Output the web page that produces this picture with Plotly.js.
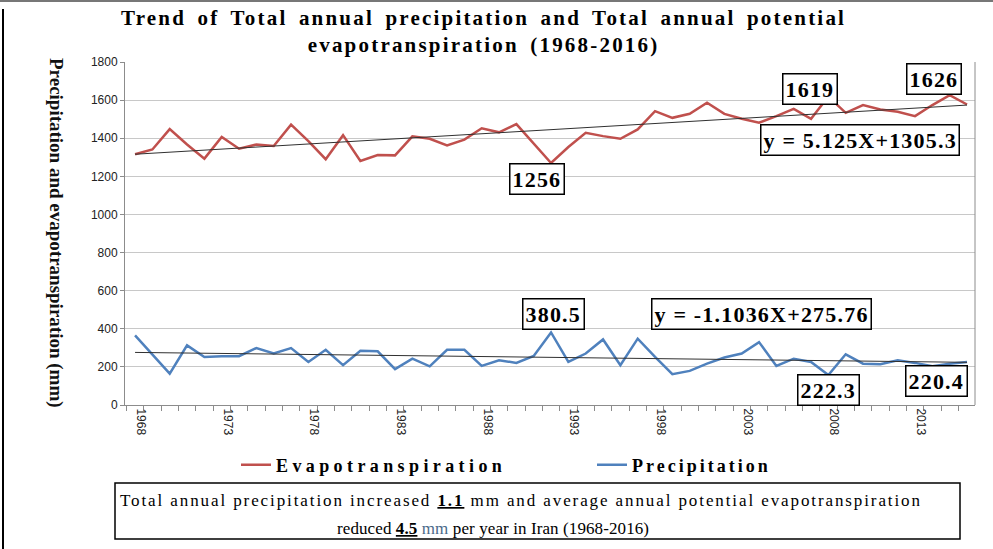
<!DOCTYPE html>
<html>
<head>
<meta charset="utf-8">
<script src="https://cdn.plot.ly/plotly-3.0.1.min.js"></script>
<style>html,body{margin:0;padding:0;background:#fff;}#chart{width:993px;height:549px;}</style>
</head>
<body>
<div id="chart"></div>
<script>
const years = [1968,1969,1970,1971,1972,1973,1974,1975,1976,1977,1978,1979,1980,1981,1982,1983,1984,1985,1986,1987,1988,1989,1990,1991,1992,1993,1994,1995,1996,1997,1998,1999,2000,2001,2002,2003,2004,2005,2006,2007,2008,2009,2010,2011,2012,2013,2014,2015,2016];
const evapotranspiration = [1316,1341,1448,1367,1293,1407,1345,1367,1359,1471,1385,1290,1416,1281,1312,1310,1410,1397,1362,1393,1452,1431,1474,1372,1270,1354,1428,1411,1397,1446,1542,1507,1528,1586,1528,1502,1481,1516,1554,1502,1619,1533,1574,1551,1539,1516,1574,1626,1577];
const precipitation = [365,266,165,313,252,256,256,299,270,299,226,290,209,285,282,188,243,203,290,290,205,235,221,257,380.5,226,270,344,209,348,252,162,179,217,249,270,330,205,243,226,157,266,217,214,235,221,203,217,226];
const trendYears = [1968, 2016];
const etTrend = [1316, 1574];
const prTrend = [276, 224];
const labelYears = [1968,1973,1978,1983,1988,1993,1998,2003,2008,2013];
const yTicks = [0,200,400,600,800,1000,1200,1400,1600,1800];

const serif = 'Liberation Serif, Times New Roman, serif';
const sans = 'Liberation Sans, Arial, sans-serif';

const L = 125, R = 975, T = 62, B = 405;
const px = v => (v - L) / (R - L);
const py = v => (B - v) / (B - T);
const sp = (t, s, w) => '<span style="letter-spacing:' + s + 'px' + (w ? ';word-spacing:' + w + 'px' : '') + '">' + t + '</span>';

const traces = [
  {x: years, y: evapotranspiration, type: 'scatter', mode: 'lines', name: sp('<b>Evapotranspiration</b>', 4.4),
   line: {color: '#c0504d', width: 2.5}},
  {x: years, y: precipitation, type: 'scatter', mode: 'lines', name: sp('<b>Precipitation</b>', 3.0),
   line: {color: '#4f81bd', width: 2.5}},
  {x: trendYears, y: etTrend, type: 'scatter', mode: 'lines', showlegend: false, hoverinfo: 'skip',
   line: {color: '#303030', width: 1}},
  {x: trendYears, y: prTrend, type: 'scatter', mode: 'lines', showlegend: false, hoverinfo: 'skip',
   line: {color: '#303030', width: 1}}
];

function box(text, xv, yv) {
  return {x: xv, y: yv, xref: 'x', yref: 'y', text: sp('<b>' + text + '</b>', 1.2), showarrow: false,
    font: {family: serif, size: 22, color: '#000'}, bgcolor: '#fff',
    bordercolor: '#000', borderwidth: 1.5, borderpad: 2};
}

const layout = {
  width: 993, height: 549,
  margin: {l: L, r: 993 - R, t: T, b: 549 - B},
  paper_bgcolor: '#fff', plot_bgcolor: '#fff',
  title: {text: sp('<b>Trend of Total annual precipitation and Total annual potential<br>evapotranspiration (1968-2016)</b>', 2.2, 4),
    font: {family: serif, size: 21, color: '#000'}, x: 0.487, xanchor: 'center', y: 0.955, yanchor: 'top'},
  xaxis: {
    range: [1967.42, 2016.46], tickmode: 'array', tickvals: labelYears, ticktext: labelYears.map(String),
    tickangle: 90, ticks: '', ticklabelshift: 6,
    tickfont: {family: sans, size: 12, color: '#222'},
    showgrid: false, zeroline: false, showline: true, linecolor: '#8c8c8c', linewidth: 1,
    minor: {tickmode: 'linear', tick0: 1967.5, dtick: 1, ticks: 'outside', ticklen: 5, tickcolor: '#8c8c8c', showgrid: false}
  },
  yaxis: {
    range: [0, 1800], tickmode: 'array', tickvals: yTicks, ticks: 'outside', ticklen: 4, tickcolor: '#8c8c8c',
    tickfont: {family: sans, size: 12, color: '#222'},
    showgrid: true, gridcolor: '#c8c8c8', gridwidth: 1, zeroline: false,
    showline: true, linecolor: '#8c8c8c', linewidth: 1
  },
  showlegend: true,
  legend: {orientation: 'h', x: px(236), xanchor: 'left', y: py(465), yanchor: 'middle',
    entrywidth: 311, entrywidthmode: 'pixels',
    font: {family: serif, size: 18, color: '#000'}, bgcolor: 'rgba(0,0,0,0)'},
  shapes: [
    {type: 'line', xref: 'paper', yref: 'paper', x0: 1, x1: 1, y0: 0, y1: 1, line: {color: '#8c8c8c', width: 1}},
    {type: 'line', xref: 'paper', yref: 'paper', x0: px(0), x1: px(993), y0: py(1), y1: py(1), line: {color: '#777', width: 2}},
    {type: 'line', xref: 'paper', yref: 'paper', x0: px(3), x1: px(3), y0: py(9), y1: py(549), line: {color: '#000', width: 2}},
    {type: 'rect', xref: 'paper', yref: 'paper', x0: px(115), x1: px(960), y0: py(539), y1: py(483), line: {color: '#000', width: 1.5}, fillcolor: 'rgba(0,0,0,0)'}
  ],
  annotations: [
    {xref: 'paper', yref: 'paper', x: px(56), y: py(233), xanchor: 'center', yanchor: 'middle',
     text: '<b>Precipitation and evapotranspiration (mm)</b>',
     textangle: 90, showarrow: false, font: {family: serif, size: 19, color: '#111'}},
    box('1256', 1991.19, 1186),
    box('1619', 2006.94, 1658),
    box('1626', 2014.10, 1711),
    box('y = 5.125X+1305.3', 2009.83, 1391),
    box('380.5', 1992.12, 478),
    box('y = -1.1036X+275.76', 2004.17, 478),
    box('222.3', 2007.98, 79),
    box('220.4', 2014.21, 126),
    {xref: 'paper', yref: 'paper', x: px(521), y: py(500), xanchor: 'center', yanchor: 'middle', showarrow: false,
     text: sp('Total annual precipitation increased <span style="text-decoration:underline"><b>1.1</b></span> mm and average annual potential evapotranspiration', 1.9),
     font: {family: serif, size: 17, color: '#000'}},
    {xref: 'paper', yref: 'paper', x: px(493), y: py(528), xanchor: 'center', yanchor: 'middle', showarrow: false,
     text: sp('reduced <span style="text-decoration:underline"><b>4.5</b></span> <span style="color:#4a6a8a">mm</span> per year in Iran (1968-2016)', 0.1),
     font: {family: serif, size: 17, color: '#000'}}
  ]
};

Plotly.newPlot('chart', traces, layout, {displayModeBar: false, staticPlot: true});
</script>
</body>
</html>
